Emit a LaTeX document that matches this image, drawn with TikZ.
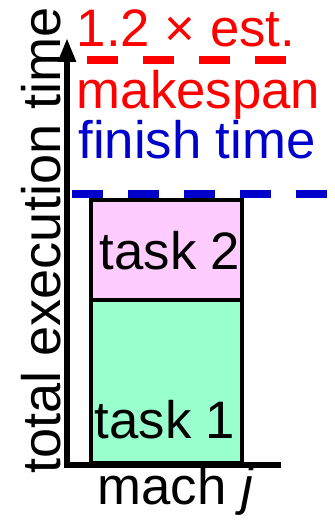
\documentclass[tikz,border=0pt]{standalone}
\usepackage{fontspec}
\setmainfont{Liberation Sans}
\usetikzlibrary{arrows.meta, positioning}
\definecolor{taskpink}{RGB}{255,204,255}
\definecolor{taskgreen}{RGB}{153,255,204}
\definecolor{finishblue}{RGB}{0,0,204}

\begin{document}
\begin{tikzpicture}[
    every node/.style={font=\fontsize{15}{17}\selectfont, inner sep=0pt},
    axis/.style={line width=1.6pt},
    taskbox/.style={draw, line width=1.4pt},
    limit/.style={line width=2pt, dash pattern=on 0.31cm off 0.25cm}
]
    \useasboundingbox (0,0) rectangle (3.34,5.28);

    % the two tasks stacked on the machine
    \filldraw[taskbox, fill=taskgreen] (0.91,0.65) rectangle (2.42,2.28);
    \filldraw[taskbox, fill=taskpink] (0.91,2.28) rectangle (2.42,3.28);
    \node (task1) [anchor=base] at (1.65,0.89) {task 1};
    \node (task2) [anchor=base] at (1.70,2.58) {task 2};

    % axes
    \coordinate (origin) at (0.67,0.63);
    \coordinate (xend) at (2.81,0.63);
    \coordinate (yend) at (0.67,4.90);
    \draw[axis, {Triangle[width=0.17cm,length=0.24cm]}-] (yend) -- (origin) -- (xend);
    \node (ylabel) [rotate=90, anchor=base, font=\fontsize{15.4}{17}\selectfont] at (0.61,2.875) {total execution time};
    \node (mach) [anchor=base] at (1.76,0.23) {mach \textit{j}};

    % finish time and the 1.2x limit
    \coordinate (finL) at (0.72,3.34);
    \coordinate (finR) at (3.34,3.34);
    \draw[limit, finishblue] (finL) -- (finR);
    \coordinate (estL) at (0.87,4.68);
    \coordinate (estR) at (2.87,4.68);
    \draw[limit, red] (estL) -- (estR);

    \node (est) [anchor=base, text=red] at (1.86,4.81) {1.2 × est.};
    \node (makespan) [anchor=base, text=red] at (1.985,4.19) {makespan};
    \node (finish) [anchor=base, text=finishblue] at (1.97,3.69) {finish time};
\end{tikzpicture}
\end{document}
